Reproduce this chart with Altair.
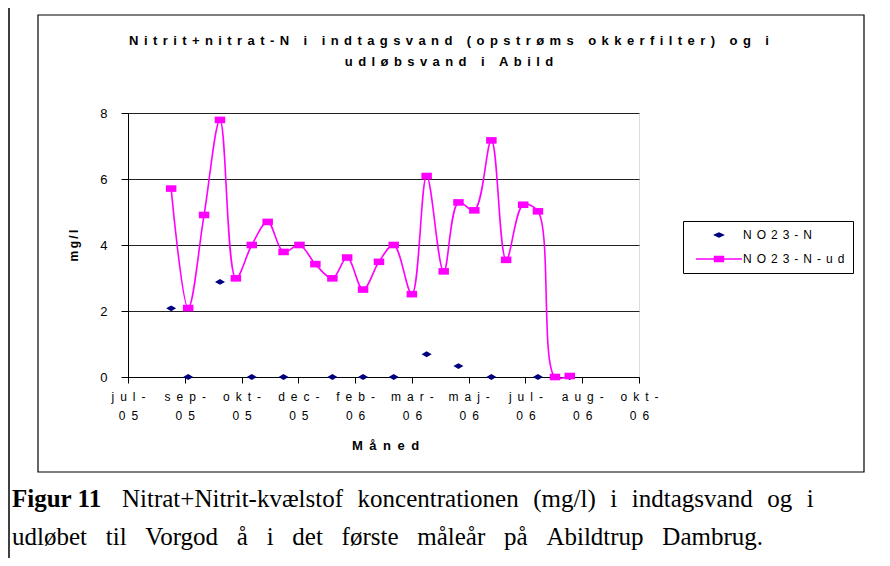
import json
import altair as alt
import pandas as pd

# ---------------- data ----------------
T0 = "2005-07-20"            # left end of the date axis
TICK_STEP_DAYS = 50
TICK_LABELS = ["jul-05", "sep-05", "okt-05", "dec-05", "feb-06",
               "mar-06", "maj-06", "jul-06", "aug-06", "okt-06"]
Y_TICKS = [0, 2, 4, 6, 8]
SERIES = ["NO23-N", "NO23-N-ud"]

UD_DATES = ["2005-08-27", "2005-09-11", "2005-09-25", "2005-10-09", "2005-10-23",
            "2005-11-06", "2005-11-20", "2005-12-04", "2005-12-18", "2006-01-01",
            "2006-01-16", "2006-01-29", "2006-02-12", "2006-02-26", "2006-03-11",
            "2006-03-27", "2006-04-09", "2006-04-24", "2006-05-07", "2006-05-21",
            "2006-06-05", "2006-06-18", "2006-07-03", "2006-07-16", "2006-07-31",
            "2006-08-13"]
UD_VALUES = [5.71, 2.09, 4.91, 7.79, 2.99, 4.00, 4.70, 3.79, 4.00, 3.42,
             2.99, 3.62, 2.65, 3.49, 4.00, 2.51, 6.09, 3.20, 5.29, 5.05,
             7.17, 3.55, 5.22, 5.02, 0.00, 0.03]

IND_DATES = ["2005-08-27", "2005-09-11", "2005-10-09", "2005-11-06", "2005-12-04",
             "2006-01-16", "2006-02-12", "2006-03-11", "2006-04-09", "2006-05-07",
             "2006-06-05", "2006-07-16", "2006-08-13"]
IND_VALUES = [2.08, 0.00, 2.88, 0.00, 0.00, 0.00, 0.00, 0.00, 0.69, 0.33,
              0.00, 0.00, 0.00]

TITLE_LINES = ["Nitrit+nitrat-N i indtagsvand (opstrøms okkerfilter) og i",
               "udløbsvand i Abild"]
X_TITLE = "Måned"
Y_TITLE = "mg/l"
CAPTION_BOLD = "Figur 11"
CAPTION_1 = "Nitrat+Nitrit-kvælstof koncentrationen (mg/l) i indtagsvand og i"
CAPTION_2 = "udløbet til Vorgod å i det første måleår på Abildtrup Dambrug."

# ---------------- styling ----------------
FONT = "Liberation Sans"
SERIF = "Liberation Serif"
MAGENTA = "#FF00FF"
NAVY = "#000080"
EN = "\u2002"
GAP_TITLE = "\u2004\u200A"
GAP_LEG = "\u2004\u200A"


def spaced(s, gap=EN):
    return gap.join(s)


def wide_words(s, extra):
    return s.replace(" ", " " + extra)


RECT_PATH = "M-1.05,-0.66H1.05V0.66H-1.05Z"
DIAMOND_PATH = "M-1,0L0,-0.58L1,0L0,0.58Z"
LEG_DIAMOND = "M-0.85,0L0,-0.4L0.85,0L0,0.4Z"
LEG_LINE_RECT = "M-4.6,0H4.6M-0.9,-0.52H0.9V0.52H-0.9Z"

t0 = pd.Timestamp(T0)
ud = pd.DataFrame({"date": pd.to_datetime(UD_DATES), "value": UD_VALUES, "series": SERIES[1]})
ind = pd.DataFrame({"date": pd.to_datetime(IND_DATES), "value": IND_VALUES, "series": SERIES[0]})
for d in (ud, ind):
    d["day"] = (d["date"] - t0).dt.days
    d["date"] = d["date"].dt.strftime("%Y-%m-%d")

x_max = TICK_STEP_DAYS * (len(TICK_LABELS) - 1)
label_arr = [[spaced(l[:-2]), spaced(l[-2:])] for l in TICK_LABELS]
label_expr = f"{json.dumps(label_arr, ensure_ascii=False)}[round(datum.value / {TICK_STEP_DAYS})]"

x_enc = alt.X(
    "day:Q",
    scale=alt.Scale(domain=[0, x_max], nice=False, zero=False),
    axis=alt.Axis(
        values=list(range(0, x_max + 1, TICK_STEP_DAYS)),
        labelExpr=label_expr,
        grid=False,
        title=spaced(X_TITLE, EN),
        titleFont=FONT, titleFontSize=13, titleFontWeight="bold", titleColor="black",
        titleX=257, titleY=68, titleBaseline="middle", titleAnchor="middle",
        labelFont=FONT, labelFontSize=12, labelColor="black",
        labelLineHeight=19, labelPadding=8, labelBaseline="top",
        labelFlush=False, labelOverlap=False,
        tickSize=6, tickColor="black", domainColor="black",
        tickWidth=1, domainWidth=1,
    ),
)
y_enc = alt.Y(
    "value:Q",
    scale=alt.Scale(domain=[0, 8], nice=False, zero=True),
    axis=alt.Axis(
        values=Y_TICKS,
        grid=True, gridColor="#222222", gridWidth=1,
        title=spaced(Y_TITLE, "\u2009"),
        titleFont=FONT, titleFontSize=12, titleFontWeight="bold", titleColor="black",
        titleX=-55, titleY=132, titleAngle=-90, titleBaseline="middle", titleAlign="center",
        labelFont=FONT, labelFontSize=13, labelColor="black", labelPadding=14,
        tickSize=7, tickColor="black", domainColor="black", tickWidth=1, domainWidth=1,
    ),
)

blue = alt.Chart(ind).mark_point(
    filled=True, shape=DIAMOND_PATH, size=100, color=NAVY, opacity=1
).encode(x=x_enc, y=y_enc)

line = alt.Chart(ud).mark_line(
    color=MAGENTA, strokeWidth=1.6, interpolate="catmull-rom"
).encode(x=x_enc, y=y_enc)

pink = alt.Chart(ud).mark_point(
    filled=True, shape=RECT_PATH, size=100, color=MAGENTA, opacity=1
).encode(x=x_enc, y=y_enc)

leg_expr = (f"datum.label == '{SERIES[0]}' ? '{spaced(SERIES[0], GAP_LEG)}' "
            f": '{spaced(SERIES[1], GAP_LEG)}'")
LEG = alt.Legend(
    title=None, orient="none", legendX=555, legendY=108,
    padding=8, strokeColor="black", fillColor="white", cornerRadius=0,
    labelFont=FONT, labelFontSize=12, labelColor="black", labelExpr=leg_expr,
    symbolSize=100, symbolStrokeWidth=1.4, labelOffset=18, symbolOffset=22,
    rowPadding=12,
)
col_scale = alt.Scale(domain=SERIES, range=[NAVY, MAGENTA])
legend_layer = alt.Chart(pd.DataFrame({"series": SERIES})).mark_point(
    clip=True, size=100, strokeWidth=1.4, opacity=1
).encode(
    x=alt.value(-400), y=alt.value(-400),
    fill=alt.Fill("series:N", scale=col_scale, legend=LEG),
    stroke=alt.Stroke("series:N", scale=col_scale, legend=LEG),
    shape=alt.Shape("series:N", scale=alt.Scale(domain=SERIES, range=[LEG_DIAMOND, LEG_LINE_RECT]), legend=LEG),
)


def text_layer(txt, x, y, **kw):
    return alt.Chart(pd.DataFrame({"t": [txt]})).mark_text(**kw).encode(
        text="t:N", x=alt.value(x), y=alt.value(y))


box = alt.Chart(pd.DataFrame({"k": [0]})).mark_rect(
    fillOpacity=0, stroke="black", strokeWidth=1.2
).encode(x=alt.value(-90), x2=alt.value(736), y=alt.value(-98), y2=alt.value(359))

outer = alt.Chart(pd.DataFrame({"k": [0]})).mark_rule(
    color="black", strokeWidth=1.5
).encode(x=alt.value(-119), y=alt.value(-110), y2=alt.value(450))

title_kw = dict(font=FONT, fontSize=13, fontWeight="bold", color="black",
                align="center", baseline="middle")
t1 = text_layer(spaced(TITLE_LINES[0], GAP_TITLE), 321, -72, **title_kw)
t2 = text_layer(spaced(TITLE_LINES[1], GAP_TITLE), 321, -51, **title_kw)

cap_kw = dict(font=SERIF, fontSize=25, color="black", align="left", baseline="alphabetic")
c0 = text_layer(CAPTION_BOLD, -116, 394, fontWeight="bold", **cap_kw)
c1 = text_layer(wide_words(CAPTION_1, "\u2004"), -6, 394, **cap_kw)
c2 = text_layer(wide_words(CAPTION_2, "\u2002"), -116, 432, **cap_kw)

chart = alt.layer(
    box, outer, t1, t2, c0, c1, c2, blue, line, pink, legend_layer
).properties(
    width=511, height=264,
    autosize=alt.AutoSizeParams(type="none"),
    padding={"left": 120, "top": 105, "right": 243, "bottom": 181},
).configure_view(
    stroke="#808080", strokeWidth=1.5
).configure(background="white")

chart.save("out.html", embed_options={"renderer": "svg", "actions": False})
